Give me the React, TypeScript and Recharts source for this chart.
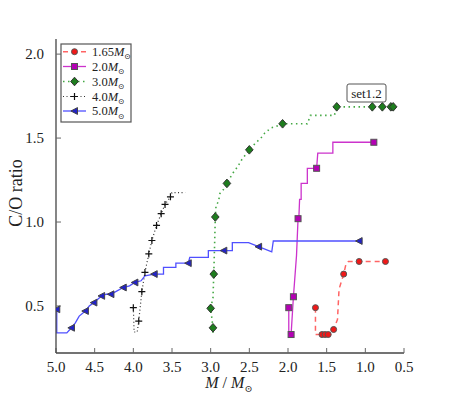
import React from "react";
import { ComposedChart, Line, Scatter, XAxis, YAxis } from "recharts";

type P = [number, number];

const xTicks = [5.0, 4.5, 4.0, 3.5, 3.0, 2.5, 2.0, 1.5, 1.0, 0.5];
const yTicks = [0.5, 1.0, 1.5, 2.0];

// 1.65 Msun
const m165Path: P[] = [[1.645, 0.49], [1.645, 0.33], [1.58, 0.33], [1.48, 0.33], [1.41, 0.36], [1.36, 0.42], [1.34, 0.6], [1.28, 0.69], [1.25, 0.75], [1.22, 0.765], [0.74, 0.765]];
const m165Marks: P[] = [[1.645, 0.49], [1.56, 0.33], [1.52, 0.33], [1.48, 0.33], [1.41, 0.36], [1.28, 0.69], [1.08, 0.765], [0.74, 0.765]];

// 2.0 Msun
const m20Path: P[] = [[1.99, 0.49], [1.99, 0.33], [1.96, 0.33], [1.93, 0.555], [1.89, 0.8], [1.87, 1.02], [1.86, 1.02], [1.85, 1.135], [1.83, 1.135], [1.83, 1.23], [1.75, 1.23], [1.75, 1.32], [1.63, 1.32], [1.615, 1.41], [1.42, 1.41], [1.42, 1.475], [0.89, 1.475]];
const m20Marks: P[] = [[1.99, 0.49], [1.96, 0.33], [1.93, 0.555], [1.87, 1.02], [1.63, 1.32], [0.89, 1.475]];

// 3.0 Msun
const m30Path: P[] = [[2.97, 0.34], [2.97, 0.37], [3.0, 0.486], [2.97, 0.55], [2.96, 0.69], [2.95, 0.85], [2.94, 1.03], [2.93, 1.1], [2.9, 1.12], [2.88, 1.17], [2.84, 1.19], [2.79, 1.23], [2.74, 1.27], [2.7, 1.3], [2.65, 1.33], [2.6, 1.37], [2.55, 1.4], [2.5, 1.43], [2.42, 1.47], [2.35, 1.5], [2.3, 1.53], [2.22, 1.56], [2.15, 1.57], [2.07, 1.585], [1.75, 1.585], [1.71, 1.635], [1.4, 1.635], [1.37, 1.686], [0.64, 1.686]];
const m30Marks: P[] = [[2.97, 0.37], [3.0, 0.486], [2.96, 0.69], [2.94, 1.03], [2.79, 1.23], [2.5, 1.43], [2.07, 1.585], [1.37, 1.686], [0.91, 1.686], [0.78, 1.686], [0.67, 1.686], [0.64, 1.686]];

// 4.0 Msun
const m40Path: P[] = [[4.0, 0.49], [3.99, 0.345], [3.95, 0.345], [3.93, 0.41], [3.89, 0.585], [3.85, 0.7], [3.8, 0.81], [3.76, 0.89], [3.7, 0.98], [3.64, 1.05], [3.59, 1.105], [3.52, 1.15], [3.5, 1.175], [3.33, 1.175]];
const m40Marks: P[] = [[4.0, 0.49], [3.93, 0.41], [3.89, 0.585], [3.85, 0.7], [3.8, 0.81], [3.76, 0.89], [3.7, 0.98], [3.64, 1.05], [3.59, 1.105], [3.52, 1.15]];

// 5.0 Msun
const m50Path: P[] = [[4.99, 0.48], [4.99, 0.34], [4.86, 0.34], [4.8, 0.37], [4.75, 0.4], [4.7, 0.44], [4.62, 0.47], [4.57, 0.5], [4.51, 0.52], [4.46, 0.54], [4.41, 0.56], [4.35, 0.57], [4.29, 0.57], [4.21, 0.59], [4.13, 0.61], [4.05, 0.62], [3.98, 0.64], [3.9, 0.65], [3.85, 0.68], [3.73, 0.69], [3.61, 0.69], [3.61, 0.73], [3.45, 0.73], [3.45, 0.755], [3.29, 0.755], [3.27, 0.79], [3.03, 0.79], [3.03, 0.83], [2.72, 0.83], [2.72, 0.877], [2.51, 0.877], [2.38, 0.853], [2.21, 0.823], [2.19, 0.887], [1.08, 0.887]];
const m50Marks: P[] = [[4.99, 0.48], [4.8, 0.37], [4.62, 0.47], [4.51, 0.52], [4.41, 0.56], [4.29, 0.57], [4.13, 0.61], [3.98, 0.64], [3.73, 0.69], [3.29, 0.755], [2.83, 0.83], [2.38, 0.853], [1.08, 0.887]];

const labels = ["1.65", "2.0", "3.0", "4.0", "5.0"];

const pts = (a: P[]) => a.map(([x, y]) => ({ x, y }));
const font = "'Liberation Serif', 'DejaVu Serif', serif";
const frame = "#444";

function marker(kind: string, cx: number, cy: number) {
  switch (kind) {
    case "o":
      return <circle cx={cx} cy={cy} r={3} fill="#f01818" stroke="#555" strokeWidth={1} />;
    case "s":
      return <rect x={cx - 3} y={cy - 3} width={6} height={6} fill="#b400b4" stroke="#555" strokeWidth={1} />;
    case "D":
      return <polygon points={`${cx},${cy - 4.3} ${cx + 3.8},${cy} ${cx},${cy + 4.3} ${cx - 3.8},${cy}`} fill="#1e7d1e" stroke="#333" strokeWidth={1} />;
    case "+":
      return <path d={`M${cx - 3.5},${cy}h7M${cx},${cy - 3.5}v7`} stroke="#111" strokeWidth={1.2} />;
    default:
      return <polygon points={`${cx - 3.6},${cy} ${cx + 3},${cy - 3.4} ${cx + 3},${cy + 3.4}`} fill="#2222c8" stroke="#444" strokeWidth={1} />;
  }
}

const series = [
  { path: m165Path, marks: m165Marks, kind: "o", stroke: "#ff6464", dash: "5 4", w: 1.5 },
  { path: m20Path, marks: m20Marks, kind: "s", stroke: "#cc33cc", dash: undefined, w: 1.3 },
  { path: m30Path, marks: m30Marks, kind: "D", stroke: "#44a844", dash: "1.5 3.5", w: 1.6 },
  { path: m40Path, marks: m40Marks, kind: "+", stroke: "#333", dash: "1 2.5", w: 1.2 },
  { path: m50Path, marks: m50Marks, kind: "<", stroke: "#5050ff", dash: undefined, w: 1.3 },
];

function Msun({ size }: { size: number }) {
  return (
    <>
      <tspan fontStyle="italic">M</tspan>
      <tspan fontSize={size * 0.62} dy={size * 0.28}>⊙</tspan>
    </>
  );
}

function XTick(p: any) {
  return (
    <text x={p.x} y={p.y + 11} textAnchor="middle" fontFamily={font} fontSize={15} fill="#222">
      {Number(p.payload.value).toFixed(1)}
    </text>
  );
}

function YTick(p: any) {
  return (
    <text x={p.x} y={p.y + 5} textAnchor="end" fontFamily={font} fontSize={15} fill="#222">
      {Number(p.payload.value).toFixed(1)}
    </text>
  );
}

export default function App() {
  const legendY = [51.7, 66.5, 81.5, 96.5, 111];
  return (
    <div style={{ position: "absolute", left: 0, top: 0, width: 449, height: 393, background: "#fff", fontFamily: font }}>
      <ComposedChart width={449} height={393} margin={{ top: 39, right: 45, bottom: 10, left: 0 }}>
        <XAxis
          xAxisId="b"
          type="number"
          dataKey="x"
          domain={[0.5, 5]}
          reversed
          ticks={xTicks}
          height={30}
          tickSize={-5}
          tickMargin={13}
          allowDataOverflow
          axisLine={{ stroke: frame, strokeWidth: 1.3 }}
          tickLine={{ stroke: "#666" }}
          tick={<XTick />}
        />
        <XAxis
          xAxisId="t"
          orientation="top"
          type="number"
          dataKey="x"
          domain={[0.5, 5]}
          reversed
          ticks={xTicks}
          height={0}
          tickSize={-5}
          allowDataOverflow
          axisLine={{ stroke: frame, strokeWidth: 1.3 }}
          tickLine={{ stroke: "#666" }}
          tick={false}
        />
        <YAxis
          yAxisId="l"
          type="number"
          domain={[0.22, 2.09]}
          ticks={yTicks}
          width={56}
          tickSize={-5}
          tickMargin={17}
          allowDataOverflow
          axisLine={{ stroke: frame, strokeWidth: 1.3 }}
          tickLine={{ stroke: "#666" }}
          tick={<YTick />}
        />
        <YAxis
          yAxisId="r"
          orientation="right"
          type="number"
          domain={[0.22, 2.09]}
          ticks={yTicks}
          width={0}
          tickSize={-5}
          allowDataOverflow
          axisLine={{ stroke: frame, strokeWidth: 1.3 }}
          tickLine={{ stroke: "#666" }}
          tick={false}
        />
        {series.map((s, i) => (
          <Line
            key={"l" + i}
            xAxisId="b"
            yAxisId="l"
            data={pts(s.path)}
            dataKey="y"
            type="linear"
            stroke={s.stroke}
            strokeWidth={s.w}
            strokeDasharray={s.dash}
            dot={false}
            activeDot={false}
            isAnimationActive={false}
          />
        ))}
        {series.map((s, i) => (
          <Scatter
            key={"s" + i}
            xAxisId="b"
            yAxisId="l"
            data={pts(s.marks)}
            dataKey="y"
            isAnimationActive={false}
            shape={(p: any) => marker(s.kind, p.cx, p.cy)}
          />
        ))}
      </ComposedChart>
      <svg width={449} height={393} style={{ position: "absolute", left: 0, top: 0, pointerEvents: "none" }}>
        <g fontFamily={font} fill="#222">
          <text transform="translate(22,193) rotate(-90)" textAnchor="middle" fontSize={18}>C/O ratio</text>
          <text x={229} y={388} textAnchor="middle" fontSize={16}>
            <tspan fontStyle="italic">M</tspan> / <Msun size={16} />
          </text>
        </g>
        <rect x={61} y={44} width={70} height={78} fill="#fff" stroke="#555" strokeWidth={1.2} />
        {series.map((s, i) => (
          <g key={"g" + i}>
            <line x1={63} x2={86} y1={legendY[i]} y2={legendY[i]} stroke={s.stroke} strokeWidth={s.w} strokeDasharray={s.dash} />
            {marker(s.kind, 74.5, legendY[i])}
            <text x={92} y={legendY[i] + 4} fontFamily={font} fontSize={12.5} fill="#222">
              {labels[i]}
              <Msun size={12.5} />
            </text>
          </g>
        ))}
        <rect x={347} y={84} width={39} height={18} rx={2} fill="#fff" stroke="#555" strokeWidth={1} />
        <text x={366.5} y={97.5} textAnchor="middle" fontFamily={font} fontSize={13} fill="#222">set1.2</text>
      </svg>
    </div>
  );
}
